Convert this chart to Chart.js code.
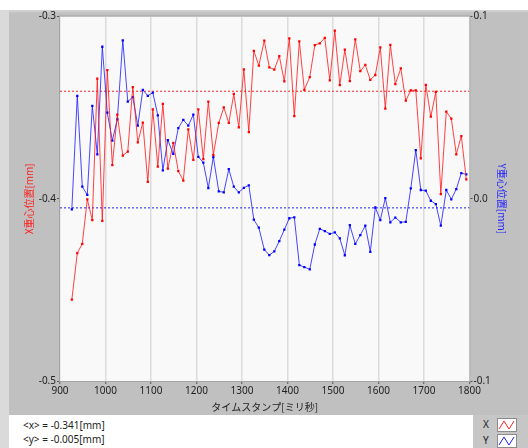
<!DOCTYPE html>
<html>
<head>
<meta charset="utf-8">
<script src="https://cdn.jsdelivr.net/npm/chart.js@4.4.1/dist/chart.umd.min.js"></script>
<style>
  html, body { margin: 0; padding: 0; background: #ffffff; }
  #wrap { position: relative; width: 528px; height: 448px; overflow: hidden; background: #ffffff;
          font-family: 'Noto Sans', 'Noto Sans CJK JP', sans-serif; }
  #edge { position: absolute; left: 0; top: 10px; width: 9px; height: 438px; background: #dadada; }
  #panel { position: absolute; left: 9px; top: 10px; width: 519px; height: 405px; background: #c0c0c0;
           box-shadow: inset 0 3px 2px -1px #d2d2d2; }
  #plot { position: absolute; left: 0; top: 0; }
  #stats { position: absolute; left: 23px; top: 418px; font-size: 10px; line-height: 14px; color: #222; white-space: pre; }
  #legend { position: absolute; left: 473px; top: 415px; width: 55px; height: 33px; background: #c6c6c6; }
  .row { position: absolute; left: 0; width: 55px; height: 15px; }
  .row span { position: absolute; left: 10px; top: 0; font-size: 10px; line-height: 15px; color: #222; }
  .row svg { position: absolute; left: 24px; top: 1px; }
</style>
</head>
<body>
<div id="wrap">
  <div id="edge"></div>
  <div id="panel"></div>
  <canvas id="plot" width="528" height="415"></canvas>
  <div id="stats"></div>
  <div id="legend">
    <div class="row" style="top:2px"><span>X</span>
      <svg width="20" height="14"><rect x="0.5" y="0.5" width="19" height="13" fill="#fff" stroke="#8c8c8c"/>
        <polyline points="2,11 7,3 12,11 17,3" fill="none" stroke="#ff2020" stroke-width="1"/></svg></div>
    <div class="row" style="top:18px"><span>Y</span>
      <svg width="20" height="14"><rect x="0.5" y="0.5" width="19" height="13" fill="#fff" stroke="#8c8c8c"/>
        <polyline points="2,11 7,3 12,11 17,3" fill="none" stroke="#2020ff" stroke-width="1"/></svg></div>
  </div>
</div>
<script>
// Sample timestamps [ms]
const timestamps = [
  926, 938, 949, 960, 971, 982, 993, 1004, 1015, 1026,
  1038, 1049, 1060, 1071, 1082, 1093, 1104, 1115, 1126, 1137,
  1149, 1160, 1171, 1182, 1193, 1204, 1215, 1226, 1237, 1249,
  1260, 1271, 1282, 1293, 1304, 1315, 1326, 1337, 1349, 1360,
  1371, 1382, 1393, 1404, 1415, 1426, 1437, 1449, 1460, 1471,
  1482, 1493, 1504, 1515, 1526, 1537, 1549, 1560, 1571, 1582,
  1593, 1604, 1615, 1626, 1637, 1649, 1660, 1671, 1682, 1693,
  1704, 1715, 1726, 1737, 1749, 1760, 1771, 1782, 1793
];

// X centre of gravity [mm]
const xPos = [
  -0.4554, -0.4298, -0.4247, -0.4003, -0.4117, -0.3341, -0.4122, -0.3294, -0.3816, -0.3539,
  -0.3763, -0.3741, -0.3387, -0.3691, -0.3582, -0.3908, -0.3510, -0.3824, -0.3480, -0.3835,
  -0.3694, -0.3848, -0.3900, -0.3619, -0.3787, -0.3509, -0.3782, -0.3467, -0.3760, -0.3584,
  -0.3499, -0.3584, -0.3425, -0.3608, -0.3290, -0.3635, -0.3189, -0.3269, -0.3132, -0.3279,
  -0.3291, -0.3217, -0.3356, -0.3120, -0.3546, -0.3136, -0.3402, -0.3332, -0.3157, -0.3147,
  -0.3117, -0.3351, -0.3078, -0.3376, -0.3182, -0.3354, -0.3125, -0.3300, -0.3266, -0.3348,
  -0.3321, -0.3170, -0.3506, -0.3156, -0.3371, -0.3285, -0.3462, -0.3405, -0.3405, -0.3779,
  -0.3375, -0.3550, -0.3413, -0.3974, -0.3522, -0.3560, -0.3756, -0.3656, -0.3894
];

// Y centre of gravity [mm]
const yPos = [
  -0.0058, 0.0565, 0.0066, 0.0021, 0.0509, 0.0244, 0.0834, 0.0472, 0.0319, 0.0436,
  0.0869, 0.0533, 0.0558, 0.0401, 0.0597, 0.0565, 0.0582, 0.0458, 0.0156, 0.0322,
  0.0246, 0.0388, 0.0433, 0.0401, 0.0462, 0.0230, 0.0198, 0.0059, 0.0229, 0.0041,
  0.0035, 0.0162, 0.0066, 0.0035, 0.0060, 0.0074, -0.0115, -0.0159, -0.0279, -0.0309,
  -0.0289, -0.0232, -0.0170, -0.0107, -0.0102, -0.0364, -0.0375, -0.0387, -0.0251, -0.0165,
  -0.0177, -0.0193, -0.0185, -0.0218, -0.0310, -0.0145, -0.0248, -0.0199, -0.0148, -0.0291,
  -0.0048, -0.0117, 0.0004, -0.0129, -0.0103, -0.0129, -0.0127, 0.0057, 0.0267, 0.0048,
  0.0044, -0.0011, -0.0029, -0.0148, 0.0048, -0.0003, 0.0053, 0.0140, 0.0134
];

// Averages shown as dashed reference lines and in the readout
const meanX = -0.341;
const meanY = -0.005;

// Axis ranges and tick labels
const timeRange = [900, 1800];
const xPosRange = [-0.5, -0.3];
const yPosRange = [-0.1, 0.1];
const timeTicks = [900, 1000, 1100, 1200, 1300, 1400, 1500, 1600, 1700, 1800];
const xPosTicks = [-0.5, -0.4, -0.3];
const yPosTicks = [-0.1, 0.0, 0.1];

const RED_LINE = 'rgba(255, 20, 20, 0.8)';
const BLUE_LINE = 'rgba(25, 25, 255, 0.8)';
const tickFont = { family: "'Noto Sans', sans-serif", size: 10 };
const titleFont = { family: "'Noto Sans CJK JP', 'Noto Sans', sans-serif", size: 10 };

document.getElementById('stats').textContent =
  '<x> = ' + meanX.toFixed(3) + '[mm]\n<y> = ' + meanY.toFixed(3) + '[mm]';

const series = vals => timestamps.map((t, i) => ({ x: t, y: vals[i] }));
const flat = v => [{ x: timeRange[0], y: v }, { x: timeRange[1], y: v }];
const fixTicks = list => scale => { scale.ticks = list.map(v => ({ value: v })); };

const plotFrame = {
  id: 'plotFrame',
  beforeDraw(chart) {
    const { ctx, chartArea: a } = chart;
    ctx.save();
    ctx.fillStyle = '#f9f9f9';
    ctx.fillRect(a.left, a.top, a.right - a.left, a.bottom - a.top);
    ctx.restore();
  },
  beforeDatasetsDraw(chart) {
    const { ctx, chartArea: a } = chart;
    ctx.save();
    ctx.strokeStyle = '#a4a4a4';
    ctx.lineWidth = 1;
    ctx.strokeRect(a.left - 0.5, a.top - 0.5, a.right - a.left + 1, a.bottom - a.top + 1);
    ctx.restore();
  }
};

new Chart(document.getElementById('plot'), {
  type: 'line',
  data: {
    datasets: [
      { label: 'X', data: series(xPos), yAxisID: 'yX', borderColor: RED_LINE, borderWidth: 1,
        pointStyle: 'rect', pointRadius: 1.6, pointBackgroundColor: '#ff0000', pointBorderWidth: 0 },
      { label: 'Y', data: series(yPos), yAxisID: 'yY', borderColor: BLUE_LINE, borderWidth: 1,
        pointStyle: 'rect', pointRadius: 1.6, pointBackgroundColor: '#0000ff', pointBorderWidth: 0 },
      { label: '<x>', data: flat(meanX), yAxisID: 'yX', borderColor: '#ff2020', borderWidth: 1,
        borderDash: [2, 2], pointRadius: 0 },
      { label: '<y>', data: flat(meanY), yAxisID: 'yY', borderColor: '#2020ff', borderWidth: 1,
        borderDash: [2, 2], pointRadius: 0 }
    ]
  },
  options: {
    responsive: false,
    animation: false,
    devicePixelRatio: 1,
    layout: { padding: { top: 16.5, left: 0, right: 0, bottom: 0 } },
    plugins: { legend: { display: false }, tooltip: { enabled: false } },
    elements: { line: { tension: 0 } },
    scales: {
      x: {
        type: 'linear', min: timeRange[0], max: timeRange[1],
        afterBuildTicks: fixTicks(timeTicks),
        afterFit: s => { s.height = 34; },
        ticks: { color: '#222', font: tickFont, padding: 1, maxRotation: 0, autoSkip: false,
                 callback: v => String(v) },
        grid: { color: '#dcdcdc', lineWidth: 1.5, tickColor: '#555', tickWidth: 1, tickLength: 3 },
        border: { display: false },
        title: { display: true, text: 'タイムスタンプ[ミリ秒]', color: '#222', font: titleFont,
                 padding: { top: 0, bottom: 2 } }
      },
      yX: {
        type: 'linear', position: 'left', min: xPosRange[0], max: xPosRange[1],
        afterBuildTicks: fixTicks(xPosTicks),
        afterFit: s => { s.width = 60; },
        ticks: { color: '#222', font: tickFont, padding: 1, callback: v => v.toFixed(1) },
        grid: { drawOnChartArea: false, tickColor: '#555', tickWidth: 1, tickLength: 3 },
        border: { display: false },
        title: { display: true, text: 'X重心位置[mm]', color: '#ff2020', font: titleFont,
                 padding: { top: 23, bottom: 0 } }
      },
      yY: {
        type: 'linear', position: 'right', min: yPosRange[0], max: yPosRange[1],
        afterBuildTicks: fixTicks(yPosTicks),
        afterFit: s => { s.width = 58.5; },
        ticks: { color: '#222', font: tickFont, padding: 1, callback: v => v.toFixed(1) },
        grid: { drawOnChartArea: false, tickColor: '#555', tickWidth: 1, tickLength: 3 },
        border: { display: false },
        title: { display: true, text: 'Y重心位置[mm]', color: '#2020ff', font: titleFont,
                 padding: { top: 20, bottom: 0 } }
      }
    }
  },
  plugins: [plotFrame]
});
</script>
</body>
</html>
